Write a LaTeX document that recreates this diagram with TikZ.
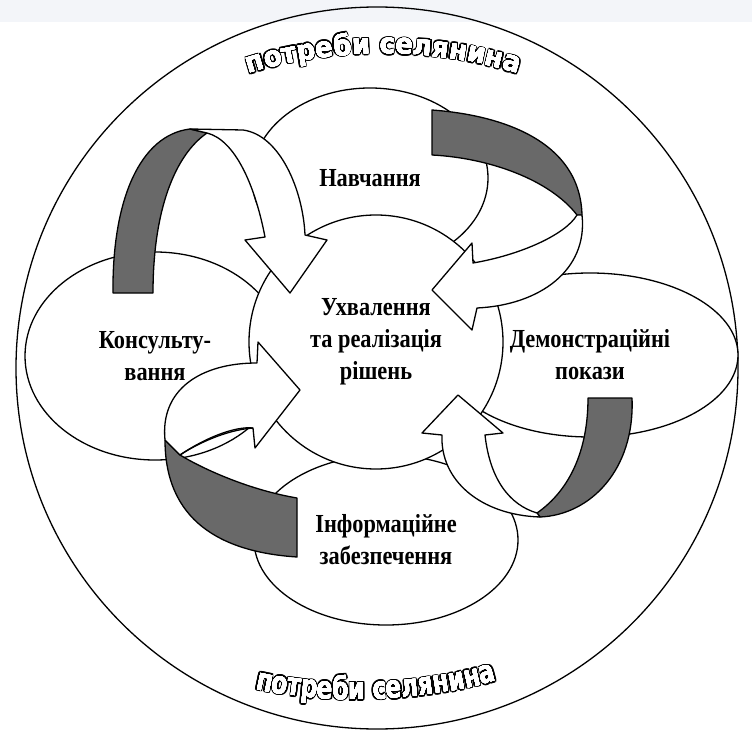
\documentclass[tikz,border=0pt]{standalone}
\usepackage{fontspec}
\setmainfont{Liberation Serif}[FakeStretch=0.86]
\newfontfamily\needtop{DejaVu Sans}[FakeStretch=0.93]
\newfontfamily\needlow{DejaVu Sans}[FakeStretch=0.75]
\usetikzlibrary{shapes.geometric,decorations.text}
\definecolor{strip}{RGB}{243,245,249}
\definecolor{shade}{RGB}{105,105,105}

\begin{document}
\begin{tikzpicture}[x=1pt, y=-1pt,
	zone/.style={ellipse, draw, fill=white, line width=1.3pt, inner sep=0pt, align=center, font=\fontsize{26}{32}\selectfont\bfseries},
	band/.style={draw, fill=white, line width=1.3pt, line join=round},
	twist/.style={band, fill=shade}]
	\useasboundingbox (0,0) rectangle (752,730);
	\fill[strip] (0,0) rectangle (752,22);
	\draw[line width=1.3pt] (377,368) circle[radius=361];
	
	\node[zone, minimum width=236, minimum height=180] (navch) at (370,178) {Навчання};
	\node[zone, minimum width=260, minimum height=208] (konsult) at (155,356) {Консульту-\\вання};
	\node[zone, minimum width=296, minimum height=164] (demo) at (590,355) {Демонстраційні\\покази};
	\node[zone, minimum width=264, minimum height=170] (inform) at (386,540) {Інформаційне\\забезпечення};
	\node[zone, circle, minimum size=254] (hub) at (376,342) {Ухвалення\\та реалізація\\рішень};
	
	\draw[twist] (113,293) -- (153,293) .. controls (153,210) and (175,155) .. (207,133) -- (190,129) .. controls (140,135) and (112,200) .. (113,293) -- cycle;
	\draw[band] (190,129) -- (243,130) .. controls (280,135) and (303,190) .. (305,235) -- (327,240) -- (290,293) -- (245,240) -- (265,237) .. controls (255,185) and (235,140) .. (207,133) -- cycle;
	
	\draw[twist] (432,110) .. controls (500,115) and (580,140) .. (582,215) -- (577,215) .. controls (550,180) and (490,158) .. (432,155) -- cycle;
	\draw[band] (582,215) .. controls (588,270) and (540,305) .. (477,308) -- (472,330) -- (432,290) -- (472,243) -- (473,263) .. controls (520,255) and (565,235) .. (577,215) -- cycle;
	
	\draw[twist] (165,440) -- (180,455) .. controls (205,470) and (250,490) .. (297,498) -- (297,557) .. controls (220,552) and (165,520) .. (165,440) -- cycle;
	\draw[band] (165,440) .. controls (160,390) and (200,363) .. (257,363) -- (258,342) -- (300,390) -- (255,448) -- (253,428) .. controls (225,430) and (195,445) .. (180,455) -- cycle;
	\draw[line width=1.3pt] (180,455) .. controls (205,438) and (235,426) .. (253,428);
	
	\draw[twist] (588,398) -- (632,398) .. controls (635,470) and (590,515) .. (540,517) -- (537,513) .. controls (570,490) and (588,450) .. (588,398) -- cycle;
	\draw[band] (540,517) .. controls (480,515) and (440,480) .. (442,435) -- (422,433) -- (458,395) -- (503,433) -- (485,435) .. controls (490,480) and (510,505) .. (537,513) -- cycle;
	
	\foreach \c/\r in {black/1.6, white/0}
		\foreach \a in {0,30,...,330} {
			\path[decorate, shift={(\a:\r)}, decoration={text along path, text align=center,
				text={|\needtop\bfseries\fontsize{28}{28}\selectfont\color{\c}|потреби селянина}}]
				(232,80) .. controls (320,45) and (445,45) .. (535,80);
			\path[decorate, shift={(\a:\r)}, decoration={text along path, text align=center,
				text={|\needlow\bfseries\fontsize{31}{31}\selectfont\color{\c}|потреби селянина}}]
				(240,685) .. controls (320,708) and (430,703) .. (512,676);
		}
\end{tikzpicture}
\end{document}
